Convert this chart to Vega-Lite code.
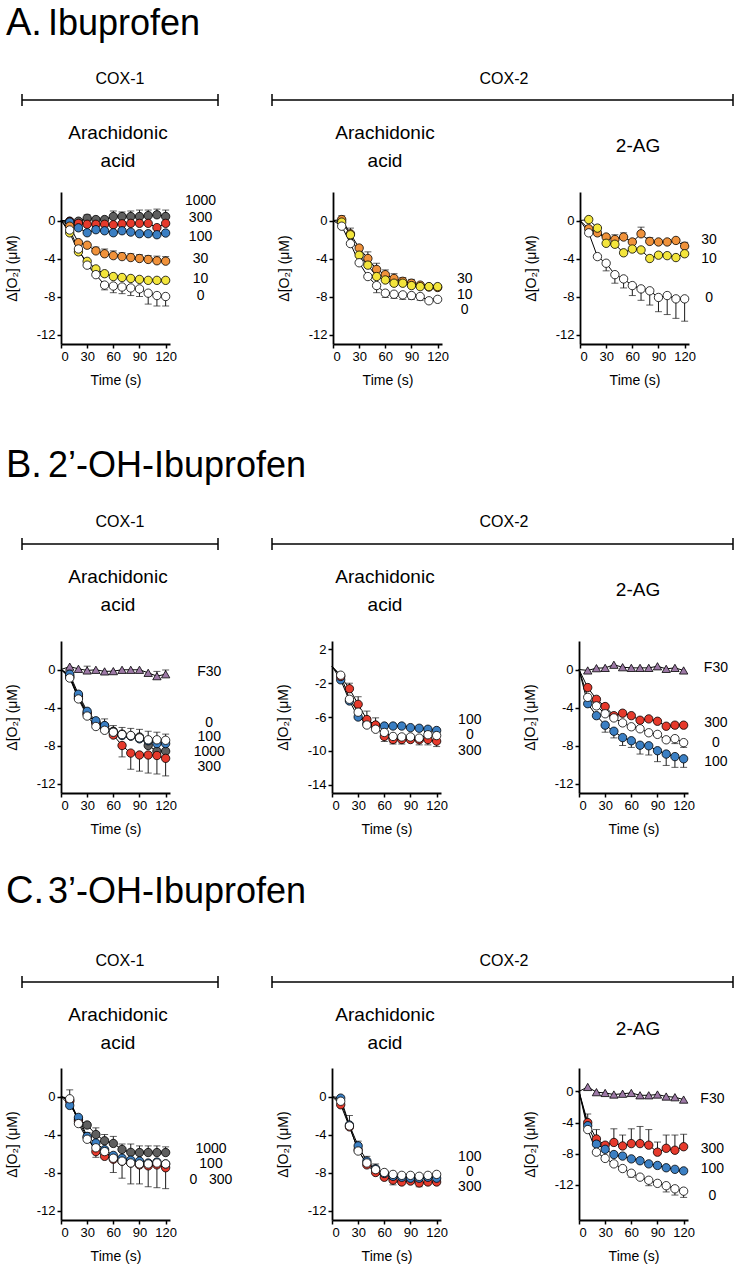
{
"$schema":"https://vega.github.io/schema/vega-lite/v6.json",
"background":"white","padding":5,"spacing":0,
"config":{"view":{"stroke":null},"font":"Liberation Sans",
"axis":{"grid":false,"domainColor":"#000","domainWidth":1.8,"tickColor":"#000","tickWidth":1.5,"tickSize":4,"labelColor":"#000","labelFont":"Liberation Sans","labelFontSize":13,"labelPadding":2,"titleColor":"#000","titleFont":"Liberation Sans","titleFontSize":14,"titleFontWeight":"normal"},
"axisY":{"titlePadding":17},"axisX":{"titlePadding":10},
"text":{"font":"Liberation Sans","color":"#000"}},
"datasets":{
"labs":[
{"p":"A1","lab":"1000","ly":2.1},{"p":"A1","lab":"300","ly":0.3},{"p":"A1","lab":"100","ly":-1.7},{"p":"A1","lab":"30","ly":-4.1},{"p":"A1","lab":"10","ly":-6.2},{"p":"A1","lab":"0","ly":-7.95},
{"p":"A2","lab":"30","ly":-6.2},{"p":"A2","lab":"10","ly":-7.8},{"p":"A2","lab":"0","ly":-9.4},
{"p":"A3","lab":"30","ly":-2.1},{"p":"A3","lab":"10","ly":-4.1},{"p":"A3","lab":"0","ly":-8.2},
{"p":"B1","lab":"F30","ly":-0.3},{"p":"B1","lab":"0","ly":-5.6},{"p":"B1","lab":"100","ly":-7.15},{"p":"B1","lab":"1000","ly":-8.7},{"p":"B1","lab":"300","ly":-10.25},
{"p":"B2","lab":"100","ly":-6.3},{"p":"B2","lab":"0","ly":-8.15},{"p":"B2","lab":"300","ly":-10.0},
{"p":"B3","lab":"F30","ly":0.17},{"p":"B3","lab":"300","ly":-5.6},{"p":"B3","lab":"0","ly":-7.7},{"p":"B3","lab":"100","ly":-9.75},
{"p":"C1","lab":"1000","ly":-5.5},{"p":"C1","lab":"100","ly":-7.15},{"p":"C1","lab":"0\u00a0\u00a0\u00a0300","ly":-8.8},
{"p":"C2","lab":"100","ly":-6.4},{"p":"C2","lab":"0","ly":-7.95},{"p":"C2","lab":"300","ly":-9.5},
{"p":"C3","lab":"F30","ly":-1.0},{"p":"C3","lab":"300","ly":-7.4},{"p":"C3","lab":"100","ly":-10.0},{"p":"C3","lab":"0","ly":-13.4}
],
"pts":[
{"p":"A1","s":"1000","t":0,"v":0},{"p":"A1","s":"1000","t":10,"v":-0.07},{"p":"A1","s":"1000","t":20,"v":-0.07},{"p":"A1","s":"1000","t":30,"v":0.24,"eb":0.6},{"p":"A1","s":"1000","t":40,"v":0.1},{"p":"A1","s":"1000","t":50,"v":0.1},{"p":"A1","s":"1000","t":60,"v":0.42,"eb":1.0},{"p":"A1","s":"1000","t":70,"v":0.42,"eb":0.9},{"p":"A1","s":"1000","t":80,"v":0.42,"eb":1.0},{"p":"A1","s":"1000","t":90,"v":0.42,"eb":1.1},{"p":"A1","s":"1000","t":100,"v":0.52,"eb":1.1},{"p":"A1","s":"1000","t":110,"v":0.6,"eb":1.2},{"p":"A1","s":"1000","t":120,"v":0.42,"eb":1.1},
{"p":"A1","s":"300","t":0,"v":0},{"p":"A1","s":"300","t":10,"v":-0.1},{"p":"A1","s":"300","t":20,"v":-0.3},{"p":"A1","s":"300","t":30,"v":-0.4},{"p":"A1","s":"300","t":40,"v":-0.4},{"p":"A1","s":"300","t":50,"v":-0.4},{"p":"A1","s":"300","t":60,"v":-0.45},{"p":"A1","s":"300","t":70,"v":-0.35},{"p":"A1","s":"300","t":80,"v":-0.3},{"p":"A1","s":"300","t":90,"v":-0.3},{"p":"A1","s":"300","t":100,"v":-0.3},{"p":"A1","s":"300","t":110,"v":-0.75},{"p":"A1","s":"300","t":120,"v":-0.3},
{"p":"A1","s":"100","t":0,"v":0},{"p":"A1","s":"100","t":10,"v":-0.17},{"p":"A1","s":"100","t":20,"v":-0.77},{"p":"A1","s":"100","t":30,"v":-1.29},{"p":"A1","s":"100","t":40,"v":-0.97},{"p":"A1","s":"100","t":50,"v":-1.08},{"p":"A1","s":"100","t":60,"v":-1.29},{"p":"A1","s":"100","t":70,"v":-1.08},{"p":"A1","s":"100","t":80,"v":-1.22},{"p":"A1","s":"100","t":90,"v":-1.39},{"p":"A1","s":"100","t":100,"v":-1.39},{"p":"A1","s":"100","t":110,"v":-1.5},{"p":"A1","s":"100","t":120,"v":-1.32},
{"p":"A1","s":"30","t":0,"v":0},{"p":"A1","s":"30","t":10,"v":-0.6},{"p":"A1","s":"30","t":20,"v":-2.33},{"p":"A1","s":"30","t":30,"v":-2.6},{"p":"A1","s":"30","t":40,"v":-3.2,"eb":-2.8},{"p":"A1","s":"30","t":50,"v":-3.5,"eb":-3.0},{"p":"A1","s":"30","t":60,"v":-3.7,"eb":-3.2},{"p":"A1","s":"30","t":70,"v":-3.8,"eb":-3.4},{"p":"A1","s":"30","t":80,"v":-3.9,"eb":-3.5},{"p":"A1","s":"30","t":90,"v":-4.0,"eb":-3.6},{"p":"A1","s":"30","t":100,"v":-4.1,"eb":-3.7},{"p":"A1","s":"30","t":110,"v":-4.24,"eb":-3.75},{"p":"A1","s":"30","t":120,"v":-4.28,"eb":-3.8},
{"p":"A1","s":"10","t":0,"v":0},{"p":"A1","s":"10","t":10,"v":-1.3},{"p":"A1","s":"10","t":20,"v":-3.3},{"p":"A1","s":"10","t":30,"v":-4.3},{"p":"A1","s":"10","t":40,"v":-5.1},{"p":"A1","s":"10","t":50,"v":-5.6},{"p":"A1","s":"10","t":60,"v":-5.9},{"p":"A1","s":"10","t":70,"v":-6.0},{"p":"A1","s":"10","t":80,"v":-6.1},{"p":"A1","s":"10","t":90,"v":-6.2},{"p":"A1","s":"10","t":100,"v":-6.3},{"p":"A1","s":"10","t":110,"v":-6.3},{"p":"A1","s":"10","t":120,"v":-6.3},
{"p":"A1","s":"0","t":0,"v":0},{"p":"A1","s":"0","t":10,"v":-1.0},{"p":"A1","s":"0","t":20,"v":-3.0},{"p":"A1","s":"0","t":30,"v":-4.7},{"p":"A1","s":"0","t":40,"v":-5.7},{"p":"A1","s":"0","t":50,"v":-6.8,"eb":-7.3},{"p":"A1","s":"0","t":60,"v":-6.9,"eb":-7.6},{"p":"A1","s":"0","t":70,"v":-7.0,"eb":-7.7},{"p":"A1","s":"0","t":80,"v":-7.1,"eb":-7.9},{"p":"A1","s":"0","t":90,"v":-7.2,"eb":-8.0},{"p":"A1","s":"0","t":100,"v":-7.65,"eb":-8.8},{"p":"A1","s":"0","t":110,"v":-7.9,"eb":-9.0},{"p":"A1","s":"0","t":120,"v":-8.0,"eb":-9.0},
{"p":"A2","s":"30","t":0,"v":0},{"p":"A2","s":"30","t":10,"v":0.1,"eb":0.5},{"p":"A2","s":"30","t":20,"v":-1.4,"eb":-0.8},{"p":"A2","s":"30","t":30,"v":-2.9},{"p":"A2","s":"30","t":40,"v":-4.0,"eb":-3.3},{"p":"A2","s":"30","t":50,"v":-5.15,"eb":-4.5},{"p":"A2","s":"30","t":60,"v":-5.7,"eb":-5.2},{"p":"A2","s":"30","t":70,"v":-6.1,"eb":-5.6},{"p":"A2","s":"30","t":80,"v":-6.4,"eb":-6.0},{"p":"A2","s":"30","t":90,"v":-6.6,"eb":-6.2},{"p":"A2","s":"30","t":100,"v":-6.8},{"p":"A2","s":"30","t":110,"v":-7.0},{"p":"A2","s":"30","t":120,"v":-7.05},
{"p":"A2","s":"10","t":0,"v":0},{"p":"A2","s":"10","t":10,"v":-0.17},{"p":"A2","s":"10","t":20,"v":-1.5},{"p":"A2","s":"10","t":30,"v":-3.65},{"p":"A2","s":"10","t":40,"v":-4.7},{"p":"A2","s":"10","t":50,"v":-5.9},{"p":"A2","s":"10","t":60,"v":-6.26},{"p":"A2","s":"10","t":70,"v":-6.6},{"p":"A2","s":"10","t":80,"v":-6.6},{"p":"A2","s":"10","t":90,"v":-6.85},{"p":"A2","s":"10","t":100,"v":-6.96},{"p":"A2","s":"10","t":110,"v":-6.96},{"p":"A2","s":"10","t":120,"v":-6.96},
{"p":"A2","s":"0","t":0,"v":0},{"p":"A2","s":"0","t":10,"v":-0.6},{"p":"A2","s":"0","t":20,"v":-2.43},{"p":"A2","s":"0","t":30,"v":-4.45},{"p":"A2","s":"0","t":40,"v":-5.9},{"p":"A2","s":"0","t":50,"v":-6.85,"eb":-7.6},{"p":"A2","s":"0","t":60,"v":-7.65,"eb":-8.1},{"p":"A2","s":"0","t":70,"v":-7.76,"eb":-8.2},{"p":"A2","s":"0","t":80,"v":-7.83,"eb":-8.3},{"p":"A2","s":"0","t":90,"v":-7.9,"eb":-8.3},{"p":"A2","s":"0","t":100,"v":-8.0,"eb":-8.4},{"p":"A2","s":"0","t":110,"v":-8.45},{"p":"A2","s":"0","t":120,"v":-8.3},
{"p":"A3","s":"30","t":0,"v":0},{"p":"A3","s":"30","t":10,"v":-0.87},{"p":"A3","s":"30","t":20,"v":-1.3,"eb":-1.0},{"p":"A3","s":"30","t":30,"v":-1.74},{"p":"A3","s":"30","t":40,"v":-2.0,"eb":-1.5},{"p":"A3","s":"30","t":50,"v":-1.74,"eb":-1.3},{"p":"A3","s":"30","t":60,"v":-2.26},{"p":"A3","s":"30","t":70,"v":-1.4,"eb":-0.7},{"p":"A3","s":"30","t":80,"v":-2.2,"eb":-1.8},{"p":"A3","s":"30","t":90,"v":-2.26},{"p":"A3","s":"30","t":100,"v":-2.26},{"p":"A3","s":"30","t":110,"v":-2.1},{"p":"A3","s":"30","t":120,"v":-2.7,"eb":-2.3},
{"p":"A3","s":"10","t":0,"v":0},{"p":"A3","s":"10","t":10,"v":0.1},{"p":"A3","s":"10","t":20,"v":-0.8},{"p":"A3","s":"10","t":30,"v":-2.4},{"p":"A3","s":"10","t":40,"v":-2.5},{"p":"A3","s":"10","t":50,"v":-3.4},{"p":"A3","s":"10","t":60,"v":-3.0},{"p":"A3","s":"10","t":70,"v":-3.1},{"p":"A3","s":"10","t":80,"v":-4.0},{"p":"A3","s":"10","t":90,"v":-3.65},{"p":"A3","s":"10","t":100,"v":-3.7},{"p":"A3","s":"10","t":110,"v":-3.9},{"p":"A3","s":"10","t":120,"v":-3.5},
{"p":"A3","s":"0","t":0,"v":0},{"p":"A3","s":"0","t":10,"v":-1.3},{"p":"A3","s":"0","t":20,"v":-3.8},{"p":"A3","s":"0","t":30,"v":-4.5,"eb":-5.3},{"p":"A3","s":"0","t":40,"v":-5.7,"eb":-6.6},{"p":"A3","s":"0","t":50,"v":-6.15,"eb":-7.1},{"p":"A3","s":"0","t":60,"v":-6.85,"eb":-7.9},{"p":"A3","s":"0","t":70,"v":-7.2,"eb":-8.4},{"p":"A3","s":"0","t":80,"v":-7.4,"eb":-8.9},{"p":"A3","s":"0","t":90,"v":-8.1,"eb":-9.6},{"p":"A3","s":"0","t":100,"v":-7.9,"eb":-9.9},{"p":"A3","s":"0","t":110,"v":-8.25,"eb":-10.3},{"p":"A3","s":"0","t":120,"v":-8.25,"eb":-10.6},
{"p":"B1","s":"F30","t":0,"v":0},{"p":"B1","s":"F30","t":10,"v":0.3},{"p":"B1","s":"F30","t":20,"v":0.07},{"p":"B1","s":"F30","t":30,"v":-0.1,"eb":0.35},{"p":"B1","s":"F30","t":40,"v":-0.03},{"p":"B1","s":"F30","t":50,"v":-0.2},{"p":"B1","s":"F30","t":60,"v":-0.17},{"p":"B1","s":"F30","t":70,"v":-0.03},{"p":"B1","s":"F30","t":80,"v":-0.03},{"p":"B1","s":"F30","t":90,"v":-0.03},{"p":"B1","s":"F30","t":100,"v":-0.35},{"p":"B1","s":"F30","t":110,"v":-0.7,"eb":-0.2},{"p":"B1","s":"F30","t":120,"v":-0.5,"eb":-0.05},
{"p":"B1","s":"1000","t":0,"v":0},{"p":"B1","s":"1000","t":10,"v":-0.8},{"p":"B1","s":"1000","t":20,"v":-3.0},{"p":"B1","s":"1000","t":30,"v":-4.7},{"p":"B1","s":"1000","t":40,"v":-5.6},{"p":"B1","s":"1000","t":50,"v":-5.95},{"p":"B1","s":"1000","t":60,"v":-6.5},{"p":"B1","s":"1000","t":70,"v":-6.8},{"p":"B1","s":"1000","t":80,"v":-7.0},{"p":"B1","s":"1000","t":90,"v":-7.1},{"p":"B1","s":"1000","t":100,"v":-8.0},{"p":"B1","s":"1000","t":110,"v":-8.6},{"p":"B1","s":"1000","t":120,"v":-8.6},
{"p":"B1","s":"300","t":0,"v":0},{"p":"B1","s":"300","t":10,"v":-0.7},{"p":"B1","s":"300","t":20,"v":-2.8},{"p":"B1","s":"300","t":30,"v":-4.6},{"p":"B1","s":"300","t":40,"v":-5.6},{"p":"B1","s":"300","t":50,"v":-6.0},{"p":"B1","s":"300","t":60,"v":-6.9},{"p":"B1","s":"300","t":70,"v":-8.0,"eb":-9.2},{"p":"B1","s":"300","t":80,"v":-8.8,"eb":-10.5},{"p":"B1","s":"300","t":90,"v":-9.0,"eb":-10.7},{"p":"B1","s":"300","t":100,"v":-9.0,"eb":-10.9},{"p":"B1","s":"300","t":110,"v":-9.05,"eb":-11.0},{"p":"B1","s":"300","t":120,"v":-9.35,"eb":-11.2},
{"p":"B1","s":"100","t":0,"v":0},{"p":"B1","s":"100","t":10,"v":-0.5},{"p":"B1","s":"100","t":20,"v":-2.6},{"p":"B1","s":"100","t":30,"v":-4.4},{"p":"B1","s":"100","t":40,"v":-5.4},{"p":"B1","s":"100","t":50,"v":-5.9},{"p":"B1","s":"100","t":60,"v":-6.6},{"p":"B1","s":"100","t":70,"v":-6.95},{"p":"B1","s":"100","t":80,"v":-7.0},{"p":"B1","s":"100","t":90,"v":-7.3},{"p":"B1","s":"100","t":100,"v":-7.5},{"p":"B1","s":"100","t":110,"v":-7.8},{"p":"B1","s":"100","t":120,"v":-7.8},
{"p":"B1","s":"0","t":0,"v":0},{"p":"B1","s":"0","t":10,"v":-0.9},{"p":"B1","s":"0","t":20,"v":-3.1},{"p":"B1","s":"0","t":30,"v":-4.9},{"p":"B1","s":"0","t":40,"v":-6.0},{"p":"B1","s":"0","t":50,"v":-6.4,"eb":-5.2},{"p":"B1","s":"0","t":60,"v":-6.6,"eb":-5.9},{"p":"B1","s":"0","t":70,"v":-6.85,"eb":-6.1},{"p":"B1","s":"0","t":80,"v":-6.95,"eb":-6.2},{"p":"B1","s":"0","t":90,"v":-7.2,"eb":-6.3},{"p":"B1","s":"0","t":100,"v":-7.4,"eb":-6.5},{"p":"B1","s":"0","t":110,"v":-7.4,"eb":-6.6},{"p":"B1","s":"0","t":120,"v":-7.45,"eb":-6.8},
{"p":"B2","s":"100","t":0,"v":0},{"p":"B2","s":"100","t":10,"v":-1.6},{"p":"B2","s":"100","t":20,"v":-4.1},{"p":"B2","s":"100","t":30,"v":-6.0},{"p":"B2","s":"100","t":40,"v":-6.76},{"p":"B2","s":"100","t":50,"v":-7.0},{"p":"B2","s":"100","t":60,"v":-7.07},{"p":"B2","s":"100","t":70,"v":-7.07},{"p":"B2","s":"100","t":80,"v":-7.07},{"p":"B2","s":"100","t":90,"v":-7.26},{"p":"B2","s":"100","t":100,"v":-7.33},{"p":"B2","s":"100","t":110,"v":-7.45},{"p":"B2","s":"100","t":120,"v":-7.6},
{"p":"B2","s":"300","t":0,"v":0},{"p":"B2","s":"300","t":10,"v":-1.2},{"p":"B2","s":"300","t":20,"v":-2.65,"eb":-2.0},{"p":"B2","s":"300","t":30,"v":-4.5,"eb":-3.6},{"p":"B2","s":"300","t":40,"v":-6.3},{"p":"B2","s":"300","t":50,"v":-6.95},{"p":"B2","s":"300","t":60,"v":-8.3},{"p":"B2","s":"300","t":70,"v":-8.67,"eb":-9.2},{"p":"B2","s":"300","t":80,"v":-8.67,"eb":-9.2},{"p":"B2","s":"300","t":90,"v":-8.67},{"p":"B2","s":"300","t":100,"v":-8.7,"eb":-9.3},{"p":"B2","s":"300","t":110,"v":-8.67,"eb":-9.3},{"p":"B2","s":"300","t":120,"v":-8.86,"eb":-9.5},
{"p":"B2","s":"0","t":0,"v":0},{"p":"B2","s":"0","t":10,"v":-1.05},{"p":"B2","s":"0","t":20,"v":-3.9},{"p":"B2","s":"0","t":30,"v":-5.43},{"p":"B2","s":"0","t":40,"v":-6.95,"eb":-5.3},{"p":"B2","s":"0","t":50,"v":-7.45,"eb":-6.1},{"p":"B2","s":"0","t":60,"v":-7.83,"eb":-8.9},{"p":"B2","s":"0","t":70,"v":-8.3,"eb":-9.0},{"p":"B2","s":"0","t":80,"v":-8.36},{"p":"B2","s":"0","t":90,"v":-8.36},{"p":"B2","s":"0","t":100,"v":-8.5},{"p":"B2","s":"0","t":110,"v":-8.1},{"p":"B2","s":"0","t":120,"v":-8.2},
{"p":"B3","s":"F30","t":0,"v":0},{"p":"B3","s":"F30","t":10,"v":-0.1},{"p":"B3","s":"F30","t":20,"v":0.14},{"p":"B3","s":"F30","t":30,"v":0.17},{"p":"B3","s":"F30","t":40,"v":0.5},{"p":"B3","s":"F30","t":50,"v":0.24},{"p":"B3","s":"F30","t":60,"v":0.17},{"p":"B3","s":"F30","t":70,"v":0.17},{"p":"B3","s":"F30","t":80,"v":0.17},{"p":"B3","s":"F30","t":90,"v":0.34},{"p":"B3","s":"F30","t":100,"v":0.07},{"p":"B3","s":"F30","t":110,"v":0.17},{"p":"B3","s":"F30","t":120,"v":-0.1},
{"p":"B3","s":"100","t":0,"v":0},{"p":"B3","s":"100","t":10,"v":-3.6},{"p":"B3","s":"100","t":20,"v":-4.86},{"p":"B3","s":"100","t":30,"v":-5.86,"eb":-6.6},{"p":"B3","s":"100","t":40,"v":-6.5,"eb":-7.2},{"p":"B3","s":"100","t":50,"v":-7.17,"eb":-8.0},{"p":"B3","s":"100","t":60,"v":-7.5,"eb":-8.2},{"p":"B3","s":"100","t":70,"v":-7.97,"eb":-8.9},{"p":"B3","s":"100","t":80,"v":-8.03,"eb":-9.0},{"p":"B3","s":"100","t":90,"v":-8.55,"eb":-9.7},{"p":"B3","s":"100","t":100,"v":-8.9,"eb":-10.1},{"p":"B3","s":"100","t":110,"v":-9.17,"eb":-10.3},{"p":"B3","s":"100","t":120,"v":-9.4,"eb":-10.3},
{"p":"B3","s":"300","t":0,"v":0},{"p":"B3","s":"300","t":10,"v":-1.9},{"p":"B3","s":"300","t":20,"v":-3.14},{"p":"B3","s":"300","t":30,"v":-3.9},{"p":"B3","s":"300","t":40,"v":-4.86},{"p":"B3","s":"300","t":50,"v":-4.6},{"p":"B3","s":"300","t":60,"v":-4.86},{"p":"B3","s":"300","t":70,"v":-5.34},{"p":"B3","s":"300","t":80,"v":-5.2},{"p":"B3","s":"300","t":90,"v":-5.45},{"p":"B3","s":"300","t":100,"v":-5.97},{"p":"B3","s":"300","t":110,"v":-5.86},{"p":"B3","s":"300","t":120,"v":-5.86},
{"p":"B3","s":"0","t":0,"v":0},{"p":"B3","s":"0","t":10,"v":-2.93},{"p":"B3","s":"0","t":20,"v":-3.83},{"p":"B3","s":"0","t":30,"v":-4.66},{"p":"B3","s":"0","t":40,"v":-5.1},{"p":"B3","s":"0","t":50,"v":-5.62},{"p":"B3","s":"0","t":60,"v":-6.03},{"p":"B3","s":"0","t":70,"v":-6.24},{"p":"B3","s":"0","t":80,"v":-6.66},{"p":"B3","s":"0","t":90,"v":-6.83},{"p":"B3","s":"0","t":100,"v":-7.4},{"p":"B3","s":"0","t":110,"v":-7.28,"eb":-7.8},{"p":"B3","s":"0","t":120,"v":-7.7,"eb":-8.2},
{"p":"C1","s":"1000","t":0,"v":0},{"p":"C1","s":"1000","t":10,"v":-0.4},{"p":"C1","s":"1000","t":20,"v":-2.4},{"p":"C1","s":"1000","t":30,"v":-3.0},{"p":"C1","s":"1000","t":40,"v":-4.0,"eb":-3.3},{"p":"C1","s":"1000","t":50,"v":-4.66,"eb":-4.0},{"p":"C1","s":"1000","t":60,"v":-4.94,"eb":-4.2},{"p":"C1","s":"1000","t":70,"v":-5.57,"eb":-5.0},{"p":"C1","s":"1000","t":80,"v":-5.88,"eb":-5.0},{"p":"C1","s":"1000","t":90,"v":-5.9,"eb":-5.2},{"p":"C1","s":"1000","t":100,"v":-5.9,"eb":-5.2},{"p":"C1","s":"1000","t":110,"v":-5.9,"eb":-5.2},{"p":"C1","s":"1000","t":120,"v":-5.9,"eb":-5.3},
{"p":"C1","s":"300","t":0,"v":0},{"p":"C1","s":"300","t":10,"v":-0.5},{"p":"C1","s":"300","t":20,"v":-2.6},{"p":"C1","s":"300","t":30,"v":-4.3},{"p":"C1","s":"300","t":40,"v":-5.8,"eb":-6.4},{"p":"C1","s":"300","t":50,"v":-6.3},{"p":"C1","s":"300","t":60,"v":-6.6,"eb":-8.0},{"p":"C1","s":"300","t":70,"v":-6.8,"eb":-8.6},{"p":"C1","s":"300","t":80,"v":-7.0,"eb":-9.2},{"p":"C1","s":"300","t":90,"v":-7.2,"eb":-9.2},{"p":"C1","s":"300","t":100,"v":-7.3,"eb":-9.5},{"p":"C1","s":"300","t":110,"v":-7.2,"eb":-9.6},{"p":"C1","s":"300","t":120,"v":-7.5,"eb":-9.7},
{"p":"C1","s":"100","t":0,"v":0},{"p":"C1","s":"100","t":10,"v":-0.94},{"p":"C1","s":"100","t":20,"v":-2.2},{"p":"C1","s":"100","t":30,"v":-4.2},{"p":"C1","s":"100","t":40,"v":-4.9},{"p":"C1","s":"100","t":50,"v":-5.6},{"p":"C1","s":"100","t":60,"v":-6.2},{"p":"C1","s":"100","t":70,"v":-6.5},{"p":"C1","s":"100","t":80,"v":-6.7},{"p":"C1","s":"100","t":90,"v":-6.8},{"p":"C1","s":"100","t":100,"v":-7.0},{"p":"C1","s":"100","t":110,"v":-6.9},{"p":"C1","s":"100","t":120,"v":-7.1},
{"p":"C1","s":"0","t":0,"v":0},{"p":"C1","s":"0","t":10,"v":-0.24,"eb":0.7},{"p":"C1","s":"0","t":20,"v":-2.85,"eb":-2.2},{"p":"C1","s":"0","t":30,"v":-4.5,"eb":-3.8},{"p":"C1","s":"0","t":40,"v":-5.4},{"p":"C1","s":"0","t":50,"v":-5.8},{"p":"C1","s":"0","t":60,"v":-6.5},{"p":"C1","s":"0","t":70,"v":-6.8},{"p":"C1","s":"0","t":80,"v":-7.0},{"p":"C1","s":"0","t":90,"v":-7.1},{"p":"C1","s":"0","t":100,"v":-7.1},{"p":"C1","s":"0","t":110,"v":-7.0},{"p":"C1","s":"0","t":120,"v":-7.1},
{"p":"C2","s":"300","t":0,"v":0},{"p":"C2","s":"300","t":10,"v":-0.87},{"p":"C2","s":"300","t":20,"v":-3.2},{"p":"C2","s":"300","t":30,"v":-5.6},{"p":"C2","s":"300","t":40,"v":-7.2},{"p":"C2","s":"300","t":50,"v":-8.0},{"p":"C2","s":"300","t":60,"v":-8.5},{"p":"C2","s":"300","t":70,"v":-8.8,"eb":-9.3},{"p":"C2","s":"300","t":80,"v":-9.0},{"p":"C2","s":"300","t":90,"v":-8.9},{"p":"C2","s":"300","t":100,"v":-9.1,"eb":-9.5},{"p":"C2","s":"300","t":110,"v":-9.0},{"p":"C2","s":"300","t":120,"v":-9.0},
{"p":"C2","s":"100","t":0,"v":0},{"p":"C2","s":"100","t":10,"v":-0.17},{"p":"C2","s":"100","t":20,"v":-3.0},{"p":"C2","s":"100","t":30,"v":-5.2},{"p":"C2","s":"100","t":40,"v":-6.8},{"p":"C2","s":"100","t":50,"v":-7.6},{"p":"C2","s":"100","t":60,"v":-8.1},{"p":"C2","s":"100","t":70,"v":-8.4},{"p":"C2","s":"100","t":80,"v":-8.5},{"p":"C2","s":"100","t":90,"v":-8.6},{"p":"C2","s":"100","t":100,"v":-8.6},{"p":"C2","s":"100","t":110,"v":-8.5},{"p":"C2","s":"100","t":120,"v":-8.6},
{"p":"C2","s":"0","t":0,"v":0},{"p":"C2","s":"0","t":10,"v":-0.5},{"p":"C2","s":"0","t":20,"v":-3.1,"eb":-2.0},{"p":"C2","s":"0","t":30,"v":-5.74,"eb":-4.7},{"p":"C2","s":"0","t":40,"v":-7.0,"eb":-6.3},{"p":"C2","s":"0","t":50,"v":-7.7,"eb":-7.1},{"p":"C2","s":"0","t":60,"v":-8.0},{"p":"C2","s":"0","t":70,"v":-8.2},{"p":"C2","s":"0","t":80,"v":-8.3},{"p":"C2","s":"0","t":90,"v":-8.3},{"p":"C2","s":"0","t":100,"v":-8.4},{"p":"C2","s":"0","t":110,"v":-8.3},{"p":"C2","s":"0","t":120,"v":-8.2},
{"p":"C3","s":"F30","t":0,"v":0},{"p":"C3","s":"F30","t":10,"v":0.57},{"p":"C3","s":"F30","t":20,"v":-0.1},{"p":"C3","s":"F30","t":30,"v":-0.2},{"p":"C3","s":"F30","t":40,"v":-0.4},{"p":"C3","s":"F30","t":50,"v":-0.3},{"p":"C3","s":"F30","t":60,"v":-0.2},{"p":"C3","s":"F30","t":70,"v":-0.5},{"p":"C3","s":"F30","t":80,"v":-0.5},{"p":"C3","s":"F30","t":90,"v":-0.4},{"p":"C3","s":"F30","t":100,"v":-0.66},{"p":"C3","s":"F30","t":110,"v":-0.75},{"p":"C3","s":"F30","t":120,"v":-1.05},
{"p":"C3","s":"300","t":0,"v":0},{"p":"C3","s":"300","t":10,"v":-4.0,"eb":-2.9},{"p":"C3","s":"300","t":20,"v":-6.1,"eb":-4.9},{"p":"C3","s":"300","t":30,"v":-6.9},{"p":"C3","s":"300","t":40,"v":-6.55,"eb":-4.8},{"p":"C3","s":"300","t":50,"v":-7.0,"eb":-5.6},{"p":"C3","s":"300","t":60,"v":-6.7,"eb":-4.8},{"p":"C3","s":"300","t":70,"v":-6.7,"eb":-4.5},{"p":"C3","s":"300","t":80,"v":-6.9,"eb":-4.9},{"p":"C3","s":"300","t":90,"v":-7.8,"eb":-6.5},{"p":"C3","s":"300","t":100,"v":-7.3,"eb":-5.6},{"p":"C3","s":"300","t":110,"v":-7.55,"eb":-5.6},{"p":"C3","s":"300","t":120,"v":-7.1,"eb":-5.5},
{"p":"C3","s":"100","t":0,"v":0},{"p":"C3","s":"100","t":10,"v":-4.4},{"p":"C3","s":"100","t":20,"v":-6.77},{"p":"C3","s":"100","t":30,"v":-7.43},{"p":"C3","s":"100","t":40,"v":-8.1},{"p":"C3","s":"100","t":50,"v":-8.3},{"p":"C3","s":"100","t":60,"v":-8.66},{"p":"C3","s":"100","t":70,"v":-8.9},{"p":"C3","s":"100","t":80,"v":-9.3},{"p":"C3","s":"100","t":90,"v":-9.5},{"p":"C3","s":"100","t":100,"v":-9.8},{"p":"C3","s":"100","t":110,"v":-10.0},{"p":"C3","s":"100","t":120,"v":-10.2},
{"p":"C3","s":"0","t":0,"v":0},{"p":"C3","s":"0","t":10,"v":-4.9},{"p":"C3","s":"0","t":20,"v":-7.8},{"p":"C3","s":"0","t":30,"v":-8.6},{"p":"C3","s":"0","t":40,"v":-9.3},{"p":"C3","s":"0","t":50,"v":-9.9},{"p":"C3","s":"0","t":60,"v":-10.5,"eb":-11.0},{"p":"C3","s":"0","t":70,"v":-11.0},{"p":"C3","s":"0","t":80,"v":-11.4,"eb":-12.1},{"p":"C3","s":"0","t":90,"v":-11.8},{"p":"C3","s":"0","t":100,"v":-12.1,"eb":-12.9},{"p":"C3","s":"0","t":110,"v":-12.5,"eb":-13.3},{"p":"C3","s":"0","t":120,"v":-12.8,"eb":-13.6}
]},
"vconcat":[
{"width":673,"height":187,"data":{"values":[{}]},
"layer":[
{"mark":{"type":"text","align":"left","baseline":"alphabetic","fontSize":38},"encoding":{"x":{"datum":1,"type":"quantitative","scale":{"domain":[56,729],"nice":false,"zero":false},"axis":null},"y":{"datum":30,"type":"quantitative","scale":{"domain":[0,187],"reverse":true,"nice":false,"zero":false},"axis":null},"text":{"value":"A."}}},
{"mark":{"type":"text","align":"left","baseline":"alphabetic","fontSize":36},"encoding":{"x":{"datum":43,"type":"quantitative","scale":{"domain":[56,729],"nice":false,"zero":false},"axis":null},"y":{"datum":30,"type":"quantitative","scale":{"domain":[0,187],"reverse":true,"nice":false,"zero":false},"axis":null},"text":{"value":"Ibuprofen"}}},
{"mark":{"type":"text","align":"center","baseline":"alphabetic","fontSize":16},"encoding":{"x":{"datum":115,"type":"quantitative","scale":{"domain":[56,729],"nice":false,"zero":false},"axis":null},"y":{"datum":79,"type":"quantitative","scale":{"domain":[0,187],"reverse":true,"nice":false,"zero":false},"axis":null},"text":{"value":"COX-1"}}},
{"mark":{"type":"text","align":"center","baseline":"alphabetic","fontSize":16},"encoding":{"x":{"datum":499,"type":"quantitative","scale":{"domain":[56,729],"nice":false,"zero":false},"axis":null},"y":{"datum":79,"type":"quantitative","scale":{"domain":[0,187],"reverse":true,"nice":false,"zero":false},"axis":null},"text":{"value":"COX-2"}}},
{"mark":{"type":"rule","color":"#000","strokeWidth":1.5},"encoding":{"x":{"datum":17,"type":"quantitative","scale":{"domain":[56,729],"nice":false,"zero":false},"axis":null},"x2":{"datum":213},"y":{"datum":95,"type":"quantitative","scale":{"domain":[0,187],"reverse":true,"nice":false,"zero":false},"axis":null}}},
{"mark":{"type":"rule","color":"#000","strokeWidth":1.5},"encoding":{"x":{"datum":267,"type":"quantitative","scale":{"domain":[56,729],"nice":false,"zero":false},"axis":null},"x2":{"datum":728},"y":{"datum":95,"type":"quantitative","scale":{"domain":[0,187],"reverse":true,"nice":false,"zero":false},"axis":null}}},
{"mark":{"type":"rule","color":"#000","strokeWidth":1.5},"encoding":{"x":{"datum":17,"type":"quantitative","scale":{"domain":[56,729],"nice":false,"zero":false},"axis":null},"y":{"datum":89,"type":"quantitative","scale":{"domain":[0,187],"reverse":true,"nice":false,"zero":false},"axis":null},"y2":{"datum":101}}},
{"mark":{"type":"rule","color":"#000","strokeWidth":1.5},"encoding":{"x":{"datum":213,"type":"quantitative","scale":{"domain":[56,729],"nice":false,"zero":false},"axis":null},"y":{"datum":89,"type":"quantitative","scale":{"domain":[0,187],"reverse":true,"nice":false,"zero":false},"axis":null},"y2":{"datum":101}}},
{"mark":{"type":"rule","color":"#000","strokeWidth":1.5},"encoding":{"x":{"datum":267,"type":"quantitative","scale":{"domain":[56,729],"nice":false,"zero":false},"axis":null},"y":{"datum":89,"type":"quantitative","scale":{"domain":[0,187],"reverse":true,"nice":false,"zero":false},"axis":null},"y2":{"datum":101}}},
{"mark":{"type":"rule","color":"#000","strokeWidth":1.5},"encoding":{"x":{"datum":728,"type":"quantitative","scale":{"domain":[56,729],"nice":false,"zero":false},"axis":null},"y":{"datum":89,"type":"quantitative","scale":{"domain":[0,187],"reverse":true,"nice":false,"zero":false},"axis":null},"y2":{"datum":101}}},
{"mark":{"type":"text","align":"center","baseline":"alphabetic","fontSize":19,"lineHeight":28},"encoding":{"x":{"datum":113,"type":"quantitative","scale":{"domain":[56,729],"nice":false,"zero":false},"axis":null},"y":{"datum":134,"type":"quantitative","scale":{"domain":[0,187],"reverse":true,"nice":false,"zero":false},"axis":null},"text":{"value":["Arachidonic","acid"]}}},
{"mark":{"type":"text","align":"center","baseline":"alphabetic","fontSize":19,"lineHeight":28},"encoding":{"x":{"datum":380,"type":"quantitative","scale":{"domain":[56,729],"nice":false,"zero":false},"axis":null},"y":{"datum":134,"type":"quantitative","scale":{"domain":[0,187],"reverse":true,"nice":false,"zero":false},"axis":null},"text":{"value":["Arachidonic","acid"]}}},
{"mark":{"type":"text","align":"center","baseline":"alphabetic","fontSize":19},"encoding":{"x":{"datum":633,"type":"quantitative","scale":{"domain":[56,729],"nice":false,"zero":false},"axis":null},"y":{"datum":147,"type":"quantitative","scale":{"domain":[0,187],"reverse":true,"nice":false,"zero":false},"axis":null},"text":{"value":"2-AG"}}}
]},
{"spacing":60,"hconcat":[
{"width":109,"height":152,"layer":[
{"encoding":{"x":{"field":"t","type":"quantitative","scale":{"domain":[0,125],"nice":false,"zero":false},"axis":{"values":[0,30,60,90,120],"title":"Time (s)"}},"y":{"field":"v","type":"quantitative","scale":{"domain":[-13,3],"nice":false,"zero":false},"axis":{"values":[0,-4,-8,-12],"title":"Δ[O₂] (μM)","labelExpr":"'' + datum.value"}}},
"layer":[
{"data":{"name":"pts"},"transform":[{"filter":"datum.p=='A1' && isValid(datum.eb)"}],"mark":{"type":"rule","color":"#1a1a1a","strokeWidth":1},"encoding":{"y2":{"field":"eb"}}},
{"data":{"name":"pts"},"transform":[{"filter":"datum.p=='A1' && isValid(datum.eb)"}],"mark":{"type":"tick","orient":"horizontal","size":7,"thickness":1,"color":"#1a1a1a"},"encoding":{"y":{"field":"eb","type":"quantitative","scale":{"domain":[-13,3],"nice":false,"zero":false},"axis":{"values":[0,-4,-8,-12],"title":"Δ[O₂] (μM)","labelExpr":"'' + datum.value"}}}},
{"data":{"name":"pts"},"transform":[{"filter":"datum.p=='A1'"}],"mark":{"type":"line","color":"#000","strokeWidth":1},"encoding":{"detail":{"field":"s"}}},
{"data":{"name":"pts"},"transform":[{"filter":"datum.p=='A1' && datum.t>0"}],"mark":{"type":"point","filled":true,"stroke":"#000","strokeWidth":0.8,"size":70,"opacity":1},"encoding":{"fill":{"field":"s","type":"nominal","scale":{"domain":["0","10","30","100","300","1000","F30"],"range":["#ffffff","#f3e53c","#f0923b","#3b7fc3","#e63a2c","#5f5f5f","#9d79a6"]},"legend":null},"shape":{"field":"s","type":"nominal","scale":{"domain":["0","10","30","100","300","1000","F30"],"range":["circle","circle","circle","circle","circle","circle","triangle-up"]},"legend":null}}}
]},
{"data":{"name":"labs"},"transform":[{"filter":"datum.p=='A1'"}],"mark":{"type":"text","fontSize":14,"align":"center","baseline":"middle"},"encoding":{"x":{"datum":160,"type":"quantitative","scale":{"domain":[0,125],"nice":false,"zero":false},"axis":{"values":[0,30,60,90,120],"title":"Time (s)"}},"y":{"field":"ly","type":"quantitative","scale":{"domain":[-13,3],"nice":false,"zero":false},"axis":{"values":[0,-4,-8,-12],"title":"Δ[O₂] (μM)","labelExpr":"'' + datum.value"}},"text":{"field":"lab"}}}
]},
{"spacing":51,"hconcat":[
{"width":109,"height":152,"layer":[
{"encoding":{"x":{"field":"t","type":"quantitative","scale":{"domain":[0,125],"nice":false,"zero":false},"axis":{"values":[0,30,60,90,120],"title":"Time (s)"}},"y":{"field":"v","type":"quantitative","scale":{"domain":[-13,3],"nice":false,"zero":false},"axis":{"values":[0,-4,-8,-12],"title":"Δ[O₂] (μM)","labelExpr":"'' + datum.value"}}},
"layer":[
{"data":{"name":"pts"},"transform":[{"filter":"datum.p=='A2' && isValid(datum.eb)"}],"mark":{"type":"rule","color":"#1a1a1a","strokeWidth":1},"encoding":{"y2":{"field":"eb"}}},
{"data":{"name":"pts"},"transform":[{"filter":"datum.p=='A2' && isValid(datum.eb)"}],"mark":{"type":"tick","orient":"horizontal","size":7,"thickness":1,"color":"#1a1a1a"},"encoding":{"y":{"field":"eb","type":"quantitative","scale":{"domain":[-13,3],"nice":false,"zero":false},"axis":{"values":[0,-4,-8,-12],"title":"Δ[O₂] (μM)","labelExpr":"'' + datum.value"}}}},
{"data":{"name":"pts"},"transform":[{"filter":"datum.p=='A2'"}],"mark":{"type":"line","color":"#000","strokeWidth":1},"encoding":{"detail":{"field":"s"}}},
{"data":{"name":"pts"},"transform":[{"filter":"datum.p=='A2' && datum.t>0"}],"mark":{"type":"point","filled":true,"stroke":"#000","strokeWidth":0.8,"size":70,"opacity":1},"encoding":{"fill":{"field":"s","type":"nominal","scale":{"domain":["0","10","30","100","300","1000","F30"],"range":["#ffffff","#f3e53c","#f0923b","#3b7fc3","#e63a2c","#5f5f5f","#9d79a6"]},"legend":null},"shape":{"field":"s","type":"nominal","scale":{"domain":["0","10","30","100","300","1000","F30"],"range":["circle","circle","circle","circle","circle","circle","triangle-up"]},"legend":null}}}
]},
{"data":{"name":"labs"},"transform":[{"filter":"datum.p=='A2'"}],"mark":{"type":"text","fontSize":14,"align":"center","baseline":"middle"},"encoding":{"x":{"datum":151,"type":"quantitative","scale":{"domain":[0,125],"nice":false,"zero":false},"axis":{"values":[0,30,60,90,120],"title":"Time (s)"}},"y":{"field":"ly","type":"quantitative","scale":{"domain":[-13,3],"nice":false,"zero":false},"axis":{"values":[0,-4,-8,-12],"title":"Δ[O₂] (μM)","labelExpr":"'' + datum.value"}},"text":{"field":"lab"}}}
]},
{"width":109,"height":152,"layer":[
{"encoding":{"x":{"field":"t","type":"quantitative","scale":{"domain":[0,125],"nice":false,"zero":false},"axis":{"values":[0,30,60,90,120],"title":"Time (s)"}},"y":{"field":"v","type":"quantitative","scale":{"domain":[-13,3],"nice":false,"zero":false},"axis":{"values":[0,-4,-8,-12],"title":"Δ[O₂] (μM)","labelExpr":"'' + datum.value"}}},
"layer":[
{"data":{"name":"pts"},"transform":[{"filter":"datum.p=='A3' && isValid(datum.eb)"}],"mark":{"type":"rule","color":"#1a1a1a","strokeWidth":1},"encoding":{"y2":{"field":"eb"}}},
{"data":{"name":"pts"},"transform":[{"filter":"datum.p=='A3' && isValid(datum.eb)"}],"mark":{"type":"tick","orient":"horizontal","size":7,"thickness":1,"color":"#1a1a1a"},"encoding":{"y":{"field":"eb","type":"quantitative","scale":{"domain":[-13,3],"nice":false,"zero":false},"axis":{"values":[0,-4,-8,-12],"title":"Δ[O₂] (μM)","labelExpr":"'' + datum.value"}}}},
{"data":{"name":"pts"},"transform":[{"filter":"datum.p=='A3'"}],"mark":{"type":"line","color":"#000","strokeWidth":1},"encoding":{"detail":{"field":"s"}}},
{"data":{"name":"pts"},"transform":[{"filter":"datum.p=='A3' && datum.t>0"}],"mark":{"type":"point","filled":true,"stroke":"#000","strokeWidth":0.8,"size":70,"opacity":1},"encoding":{"fill":{"field":"s","type":"nominal","scale":{"domain":["0","10","30","100","300","1000","F30"],"range":["#ffffff","#f3e53c","#f0923b","#3b7fc3","#e63a2c","#5f5f5f","#9d79a6"]},"legend":null},"shape":{"field":"s","type":"nominal","scale":{"domain":["0","10","30","100","300","1000","F30"],"range":["circle","circle","circle","circle","circle","circle","triangle-up"]},"legend":null}}}
]},
{"data":{"name":"labs"},"transform":[{"filter":"datum.p=='A3'"}],"mark":{"type":"text","fontSize":14,"align":"center","baseline":"middle"},"encoding":{"x":{"datum":148,"type":"quantitative","scale":{"domain":[0,125],"nice":false,"zero":false},"axis":{"values":[0,30,60,90,120],"title":"Time (s)"}},"y":{"field":"ly","type":"quantitative","scale":{"domain":[-13,3],"nice":false,"zero":false},"axis":{"values":[0,-4,-8,-12],"title":"Δ[O₂] (μM)","labelExpr":"'' + datum.value"}},"text":{"field":"lab"}}}
]}
]}
]},
{"width":673,"height":254,"data":{"values":[{}]},
"layer":[
{"mark":{"type":"text","align":"left","baseline":"alphabetic","fontSize":38},"encoding":{"x":{"datum":1,"type":"quantitative","scale":{"domain":[56,729],"nice":false,"zero":false},"axis":null},"y":{"datum":90,"type":"quantitative","scale":{"domain":[0,254],"reverse":true,"nice":false,"zero":false},"axis":null},"text":{"value":"B."}}},
{"mark":{"type":"text","align":"left","baseline":"alphabetic","fontSize":36},"encoding":{"x":{"datum":43,"type":"quantitative","scale":{"domain":[56,729],"nice":false,"zero":false},"axis":null},"y":{"datum":90,"type":"quantitative","scale":{"domain":[0,254],"reverse":true,"nice":false,"zero":false},"axis":null},"text":{"value":"2’-OH-Ibuprofen"}}},
{"mark":{"type":"text","align":"center","baseline":"alphabetic","fontSize":16},"encoding":{"x":{"datum":115,"type":"quantitative","scale":{"domain":[56,729],"nice":false,"zero":false},"axis":null},"y":{"datum":140,"type":"quantitative","scale":{"domain":[0,254],"reverse":true,"nice":false,"zero":false},"axis":null},"text":{"value":"COX-1"}}},
{"mark":{"type":"text","align":"center","baseline":"alphabetic","fontSize":16},"encoding":{"x":{"datum":499,"type":"quantitative","scale":{"domain":[56,729],"nice":false,"zero":false},"axis":null},"y":{"datum":140,"type":"quantitative","scale":{"domain":[0,254],"reverse":true,"nice":false,"zero":false},"axis":null},"text":{"value":"COX-2"}}},
{"mark":{"type":"rule","color":"#000","strokeWidth":1.5},"encoding":{"x":{"datum":17,"type":"quantitative","scale":{"domain":[56,729],"nice":false,"zero":false},"axis":null},"x2":{"datum":213},"y":{"datum":157,"type":"quantitative","scale":{"domain":[0,254],"reverse":true,"nice":false,"zero":false},"axis":null}}},
{"mark":{"type":"rule","color":"#000","strokeWidth":1.5},"encoding":{"x":{"datum":267,"type":"quantitative","scale":{"domain":[56,729],"nice":false,"zero":false},"axis":null},"x2":{"datum":728},"y":{"datum":157,"type":"quantitative","scale":{"domain":[0,254],"reverse":true,"nice":false,"zero":false},"axis":null}}},
{"mark":{"type":"rule","color":"#000","strokeWidth":1.5},"encoding":{"x":{"datum":17,"type":"quantitative","scale":{"domain":[56,729],"nice":false,"zero":false},"axis":null},"y":{"datum":151,"type":"quantitative","scale":{"domain":[0,254],"reverse":true,"nice":false,"zero":false},"axis":null},"y2":{"datum":163}}},
{"mark":{"type":"rule","color":"#000","strokeWidth":1.5},"encoding":{"x":{"datum":213,"type":"quantitative","scale":{"domain":[56,729],"nice":false,"zero":false},"axis":null},"y":{"datum":151,"type":"quantitative","scale":{"domain":[0,254],"reverse":true,"nice":false,"zero":false},"axis":null},"y2":{"datum":163}}},
{"mark":{"type":"rule","color":"#000","strokeWidth":1.5},"encoding":{"x":{"datum":267,"type":"quantitative","scale":{"domain":[56,729],"nice":false,"zero":false},"axis":null},"y":{"datum":151,"type":"quantitative","scale":{"domain":[0,254],"reverse":true,"nice":false,"zero":false},"axis":null},"y2":{"datum":163}}},
{"mark":{"type":"rule","color":"#000","strokeWidth":1.5},"encoding":{"x":{"datum":728,"type":"quantitative","scale":{"domain":[56,729],"nice":false,"zero":false},"axis":null},"y":{"datum":151,"type":"quantitative","scale":{"domain":[0,254],"reverse":true,"nice":false,"zero":false},"axis":null},"y2":{"datum":163}}},
{"mark":{"type":"text","align":"center","baseline":"alphabetic","fontSize":19,"lineHeight":28},"encoding":{"x":{"datum":113,"type":"quantitative","scale":{"domain":[56,729],"nice":false,"zero":false},"axis":null},"y":{"datum":196,"type":"quantitative","scale":{"domain":[0,254],"reverse":true,"nice":false,"zero":false},"axis":null},"text":{"value":["Arachidonic","acid"]}}},
{"mark":{"type":"text","align":"center","baseline":"alphabetic","fontSize":19,"lineHeight":28},"encoding":{"x":{"datum":380,"type":"quantitative","scale":{"domain":[56,729],"nice":false,"zero":false},"axis":null},"y":{"datum":196,"type":"quantitative","scale":{"domain":[0,254],"reverse":true,"nice":false,"zero":false},"axis":null},"text":{"value":["Arachidonic","acid"]}}},
{"mark":{"type":"text","align":"center","baseline":"alphabetic","fontSize":19},"encoding":{"x":{"datum":633,"type":"quantitative","scale":{"domain":[56,729],"nice":false,"zero":false},"axis":null},"y":{"datum":209,"type":"quantitative","scale":{"domain":[0,254],"reverse":true,"nice":false,"zero":false},"axis":null},"text":{"value":"2-AG"}}}
]},
{"spacing":51,"hconcat":[
{"width":109,"height":152,"layer":[
{"encoding":{"x":{"field":"t","type":"quantitative","scale":{"domain":[0,125],"nice":false,"zero":false},"axis":{"values":[0,30,60,90,120],"title":"Time (s)"}},"y":{"field":"v","type":"quantitative","scale":{"domain":[-13,3],"nice":false,"zero":false},"axis":{"values":[0,-4,-8,-12],"title":"Δ[O₂] (μM)","labelExpr":"'' + datum.value"}}},
"layer":[
{"data":{"name":"pts"},"transform":[{"filter":"datum.p=='B1' && isValid(datum.eb)"}],"mark":{"type":"rule","color":"#1a1a1a","strokeWidth":1},"encoding":{"y2":{"field":"eb"}}},
{"data":{"name":"pts"},"transform":[{"filter":"datum.p=='B1' && isValid(datum.eb)"}],"mark":{"type":"tick","orient":"horizontal","size":7,"thickness":1,"color":"#1a1a1a"},"encoding":{"y":{"field":"eb","type":"quantitative","scale":{"domain":[-13,3],"nice":false,"zero":false},"axis":{"values":[0,-4,-8,-12],"title":"Δ[O₂] (μM)","labelExpr":"'' + datum.value"}}}},
{"data":{"name":"pts"},"transform":[{"filter":"datum.p=='B1'"}],"mark":{"type":"line","color":"#000","strokeWidth":1},"encoding":{"detail":{"field":"s"}}},
{"data":{"name":"pts"},"transform":[{"filter":"datum.p=='B1' && datum.t>0"}],"mark":{"type":"point","filled":true,"stroke":"#000","strokeWidth":0.8,"size":70,"opacity":1},"encoding":{"fill":{"field":"s","type":"nominal","scale":{"domain":["0","10","30","100","300","1000","F30"],"range":["#ffffff","#f3e53c","#f0923b","#3b7fc3","#e63a2c","#5f5f5f","#9d79a6"]},"legend":null},"shape":{"field":"s","type":"nominal","scale":{"domain":["0","10","30","100","300","1000","F30"],"range":["circle","circle","circle","circle","circle","circle","triangle-up"]},"legend":null}}}
]},
{"data":{"name":"labs"},"transform":[{"filter":"datum.p=='B1'"}],"mark":{"type":"text","fontSize":14,"align":"center","baseline":"middle"},"encoding":{"x":{"datum":170,"type":"quantitative","scale":{"domain":[0,125],"nice":false,"zero":false},"axis":{"values":[0,30,60,90,120],"title":"Time (s)"}},"y":{"field":"ly","type":"quantitative","scale":{"domain":[-13,3],"nice":false,"zero":false},"axis":{"values":[0,-4,-8,-12],"title":"Δ[O₂] (μM)","labelExpr":"'' + datum.value"}},"text":{"field":"lab"}}}
]},
{"spacing":41,"hconcat":[
{"width":109,"height":152,"layer":[
{"encoding":{"x":{"field":"t","type":"quantitative","scale":{"domain":[0,125],"nice":false,"zero":false},"axis":{"values":[0,30,60,90,120],"title":"Time (s)"}},"y":{"field":"v","type":"quantitative","scale":{"domain":[-15,3],"nice":false,"zero":false},"axis":{"values":[2,-2,-6,-10,-14],"title":"Δ[O₂] (μM)","labelExpr":"'' + datum.value"}}},
"layer":[
{"data":{"name":"pts"},"transform":[{"filter":"datum.p=='B2' && isValid(datum.eb)"}],"mark":{"type":"rule","color":"#1a1a1a","strokeWidth":1},"encoding":{"y2":{"field":"eb"}}},
{"data":{"name":"pts"},"transform":[{"filter":"datum.p=='B2' && isValid(datum.eb)"}],"mark":{"type":"tick","orient":"horizontal","size":7,"thickness":1,"color":"#1a1a1a"},"encoding":{"y":{"field":"eb","type":"quantitative","scale":{"domain":[-15,3],"nice":false,"zero":false},"axis":{"values":[2,-2,-6,-10,-14],"title":"Δ[O₂] (μM)","labelExpr":"'' + datum.value"}}}},
{"data":{"name":"pts"},"transform":[{"filter":"datum.p=='B2'"}],"mark":{"type":"line","color":"#000","strokeWidth":1},"encoding":{"detail":{"field":"s"}}},
{"data":{"name":"pts"},"transform":[{"filter":"datum.p=='B2' && datum.t>0"}],"mark":{"type":"point","filled":true,"stroke":"#000","strokeWidth":0.8,"size":70,"opacity":1},"encoding":{"fill":{"field":"s","type":"nominal","scale":{"domain":["0","10","30","100","300","1000","F30"],"range":["#ffffff","#f3e53c","#f0923b","#3b7fc3","#e63a2c","#5f5f5f","#9d79a6"]},"legend":null},"shape":{"field":"s","type":"nominal","scale":{"domain":["0","10","30","100","300","1000","F30"],"range":["circle","circle","circle","circle","circle","circle","triangle-up"]},"legend":null}}}
]},
{"data":{"name":"labs"},"transform":[{"filter":"datum.p=='B2'"}],"mark":{"type":"text","fontSize":14,"align":"center","baseline":"middle"},"encoding":{"x":{"datum":158,"type":"quantitative","scale":{"domain":[0,125],"nice":false,"zero":false},"axis":{"values":[0,30,60,90,120],"title":"Time (s)"}},"y":{"field":"ly","type":"quantitative","scale":{"domain":[-15,3],"nice":false,"zero":false},"axis":{"values":[2,-2,-6,-10,-14],"title":"Δ[O₂] (μM)","labelExpr":"'' + datum.value"}},"text":{"field":"lab"}}}
]},
{"width":109,"height":152,"layer":[
{"encoding":{"x":{"field":"t","type":"quantitative","scale":{"domain":[0,125],"nice":false,"zero":false},"axis":{"values":[0,30,60,90,120],"title":"Time (s)"}},"y":{"field":"v","type":"quantitative","scale":{"domain":[-13,3],"nice":false,"zero":false},"axis":{"values":[0,-4,-8,-12],"title":"Δ[O₂] (μM)","labelExpr":"'' + datum.value"}}},
"layer":[
{"data":{"name":"pts"},"transform":[{"filter":"datum.p=='B3' && isValid(datum.eb)"}],"mark":{"type":"rule","color":"#1a1a1a","strokeWidth":1},"encoding":{"y2":{"field":"eb"}}},
{"data":{"name":"pts"},"transform":[{"filter":"datum.p=='B3' && isValid(datum.eb)"}],"mark":{"type":"tick","orient":"horizontal","size":7,"thickness":1,"color":"#1a1a1a"},"encoding":{"y":{"field":"eb","type":"quantitative","scale":{"domain":[-13,3],"nice":false,"zero":false},"axis":{"values":[0,-4,-8,-12],"title":"Δ[O₂] (μM)","labelExpr":"'' + datum.value"}}}},
{"data":{"name":"pts"},"transform":[{"filter":"datum.p=='B3'"}],"mark":{"type":"line","color":"#000","strokeWidth":1},"encoding":{"detail":{"field":"s"}}},
{"data":{"name":"pts"},"transform":[{"filter":"datum.p=='B3' && datum.t>0"}],"mark":{"type":"point","filled":true,"stroke":"#000","strokeWidth":0.8,"size":70,"opacity":1},"encoding":{"fill":{"field":"s","type":"nominal","scale":{"domain":["0","10","30","100","300","1000","F30"],"range":["#ffffff","#f3e53c","#f0923b","#3b7fc3","#e63a2c","#5f5f5f","#9d79a6"]},"legend":null},"shape":{"field":"s","type":"nominal","scale":{"domain":["0","10","30","100","300","1000","F30"],"range":["circle","circle","circle","circle","circle","circle","triangle-up"]},"legend":null}}}
]},
{"data":{"name":"labs"},"transform":[{"filter":"datum.p=='B3'"}],"mark":{"type":"text","fontSize":14,"align":"center","baseline":"middle"},"encoding":{"x":{"datum":157,"type":"quantitative","scale":{"domain":[0,125],"nice":false,"zero":false},"axis":{"values":[0,30,60,90,120],"title":"Time (s)"}},"y":{"field":"ly","type":"quantitative","scale":{"domain":[-13,3],"nice":false,"zero":false},"axis":{"values":[0,-4,-8,-12],"title":"Δ[O₂] (μM)","labelExpr":"'' + datum.value"}},"text":{"field":"lab"}}}
]}
]}
]},
{"width":673,"height":232,"data":{"values":[{}]},
"layer":[
{"mark":{"type":"text","align":"left","baseline":"alphabetic","fontSize":38},"encoding":{"x":{"datum":1,"type":"quantitative","scale":{"domain":[56,729],"nice":false,"zero":false},"axis":null},"y":{"datum":67,"type":"quantitative","scale":{"domain":[0,232],"reverse":true,"nice":false,"zero":false},"axis":null},"text":{"value":"C."}}},
{"mark":{"type":"text","align":"left","baseline":"alphabetic","fontSize":36},"encoding":{"x":{"datum":43,"type":"quantitative","scale":{"domain":[56,729],"nice":false,"zero":false},"axis":null},"y":{"datum":67,"type":"quantitative","scale":{"domain":[0,232],"reverse":true,"nice":false,"zero":false},"axis":null},"text":{"value":"3’-OH-Ibuprofen"}}},
{"mark":{"type":"text","align":"center","baseline":"alphabetic","fontSize":16},"encoding":{"x":{"datum":115,"type":"quantitative","scale":{"domain":[56,729],"nice":false,"zero":false},"axis":null},"y":{"datum":130,"type":"quantitative","scale":{"domain":[0,232],"reverse":true,"nice":false,"zero":false},"axis":null},"text":{"value":"COX-1"}}},
{"mark":{"type":"text","align":"center","baseline":"alphabetic","fontSize":16},"encoding":{"x":{"datum":499,"type":"quantitative","scale":{"domain":[56,729],"nice":false,"zero":false},"axis":null},"y":{"datum":130,"type":"quantitative","scale":{"domain":[0,232],"reverse":true,"nice":false,"zero":false},"axis":null},"text":{"value":"COX-2"}}},
{"mark":{"type":"rule","color":"#000","strokeWidth":1.5},"encoding":{"x":{"datum":17,"type":"quantitative","scale":{"domain":[56,729],"nice":false,"zero":false},"axis":null},"x2":{"datum":213},"y":{"datum":146,"type":"quantitative","scale":{"domain":[0,232],"reverse":true,"nice":false,"zero":false},"axis":null}}},
{"mark":{"type":"rule","color":"#000","strokeWidth":1.5},"encoding":{"x":{"datum":267,"type":"quantitative","scale":{"domain":[56,729],"nice":false,"zero":false},"axis":null},"x2":{"datum":728},"y":{"datum":146,"type":"quantitative","scale":{"domain":[0,232],"reverse":true,"nice":false,"zero":false},"axis":null}}},
{"mark":{"type":"rule","color":"#000","strokeWidth":1.5},"encoding":{"x":{"datum":17,"type":"quantitative","scale":{"domain":[56,729],"nice":false,"zero":false},"axis":null},"y":{"datum":140,"type":"quantitative","scale":{"domain":[0,232],"reverse":true,"nice":false,"zero":false},"axis":null},"y2":{"datum":152}}},
{"mark":{"type":"rule","color":"#000","strokeWidth":1.5},"encoding":{"x":{"datum":213,"type":"quantitative","scale":{"domain":[56,729],"nice":false,"zero":false},"axis":null},"y":{"datum":140,"type":"quantitative","scale":{"domain":[0,232],"reverse":true,"nice":false,"zero":false},"axis":null},"y2":{"datum":152}}},
{"mark":{"type":"rule","color":"#000","strokeWidth":1.5},"encoding":{"x":{"datum":267,"type":"quantitative","scale":{"domain":[56,729],"nice":false,"zero":false},"axis":null},"y":{"datum":140,"type":"quantitative","scale":{"domain":[0,232],"reverse":true,"nice":false,"zero":false},"axis":null},"y2":{"datum":152}}},
{"mark":{"type":"rule","color":"#000","strokeWidth":1.5},"encoding":{"x":{"datum":728,"type":"quantitative","scale":{"domain":[56,729],"nice":false,"zero":false},"axis":null},"y":{"datum":140,"type":"quantitative","scale":{"domain":[0,232],"reverse":true,"nice":false,"zero":false},"axis":null},"y2":{"datum":152}}},
{"mark":{"type":"text","align":"center","baseline":"alphabetic","fontSize":19,"lineHeight":28},"encoding":{"x":{"datum":113,"type":"quantitative","scale":{"domain":[56,729],"nice":false,"zero":false},"axis":null},"y":{"datum":185,"type":"quantitative","scale":{"domain":[0,232],"reverse":true,"nice":false,"zero":false},"axis":null},"text":{"value":["Arachidonic","acid"]}}},
{"mark":{"type":"text","align":"center","baseline":"alphabetic","fontSize":19,"lineHeight":28},"encoding":{"x":{"datum":380,"type":"quantitative","scale":{"domain":[56,729],"nice":false,"zero":false},"axis":null},"y":{"datum":185,"type":"quantitative","scale":{"domain":[0,232],"reverse":true,"nice":false,"zero":false},"axis":null},"text":{"value":["Arachidonic","acid"]}}},
{"mark":{"type":"text","align":"center","baseline":"alphabetic","fontSize":19},"encoding":{"x":{"datum":633,"type":"quantitative","scale":{"domain":[56,729],"nice":false,"zero":false},"axis":null},"y":{"datum":199,"type":"quantitative","scale":{"domain":[0,232],"reverse":true,"nice":false,"zero":false},"axis":null},"text":{"value":"2-AG"}}}
]},
{"spacing":43,"hconcat":[
{"width":109,"height":152,"layer":[
{"encoding":{"x":{"field":"t","type":"quantitative","scale":{"domain":[0,125],"nice":false,"zero":false},"axis":{"values":[0,30,60,90,120],"title":"Time (s)"}},"y":{"field":"v","type":"quantitative","scale":{"domain":[-13,3],"nice":false,"zero":false},"axis":{"values":[0,-4,-8,-12],"title":"Δ[O₂] (μM)","labelExpr":"'' + datum.value"}}},
"layer":[
{"data":{"name":"pts"},"transform":[{"filter":"datum.p=='C1' && isValid(datum.eb)"}],"mark":{"type":"rule","color":"#1a1a1a","strokeWidth":1},"encoding":{"y2":{"field":"eb"}}},
{"data":{"name":"pts"},"transform":[{"filter":"datum.p=='C1' && isValid(datum.eb)"}],"mark":{"type":"tick","orient":"horizontal","size":7,"thickness":1,"color":"#1a1a1a"},"encoding":{"y":{"field":"eb","type":"quantitative","scale":{"domain":[-13,3],"nice":false,"zero":false},"axis":{"values":[0,-4,-8,-12],"title":"Δ[O₂] (μM)","labelExpr":"'' + datum.value"}}}},
{"data":{"name":"pts"},"transform":[{"filter":"datum.p=='C1'"}],"mark":{"type":"line","color":"#000","strokeWidth":1},"encoding":{"detail":{"field":"s"}}},
{"data":{"name":"pts"},"transform":[{"filter":"datum.p=='C1' && datum.t>0"}],"mark":{"type":"point","filled":true,"stroke":"#000","strokeWidth":0.8,"size":70,"opacity":1},"encoding":{"fill":{"field":"s","type":"nominal","scale":{"domain":["0","10","30","100","300","1000","F30"],"range":["#ffffff","#f3e53c","#f0923b","#3b7fc3","#e63a2c","#5f5f5f","#9d79a6"]},"legend":null},"shape":{"field":"s","type":"nominal","scale":{"domain":["0","10","30","100","300","1000","F30"],"range":["circle","circle","circle","circle","circle","circle","triangle-up"]},"legend":null}}}
]},
{"data":{"name":"labs"},"transform":[{"filter":"datum.p=='C1'"}],"mark":{"type":"text","fontSize":14,"align":"center","baseline":"middle"},"encoding":{"x":{"datum":172,"type":"quantitative","scale":{"domain":[0,125],"nice":false,"zero":false},"axis":{"values":[0,30,60,90,120],"title":"Time (s)"}},"y":{"field":"ly","type":"quantitative","scale":{"domain":[-13,3],"nice":false,"zero":false},"axis":{"values":[0,-4,-8,-12],"title":"Δ[O₂] (μM)","labelExpr":"'' + datum.value"}},"text":{"field":"lab"}}}
]},
{"spacing":41,"hconcat":[
{"width":109,"height":152,"layer":[
{"encoding":{"x":{"field":"t","type":"quantitative","scale":{"domain":[0,125],"nice":false,"zero":false},"axis":{"values":[0,30,60,90,120],"title":"Time (s)"}},"y":{"field":"v","type":"quantitative","scale":{"domain":[-13,3],"nice":false,"zero":false},"axis":{"values":[0,-4,-8,-12],"title":"Δ[O₂] (μM)","labelExpr":"'' + datum.value"}}},
"layer":[
{"data":{"name":"pts"},"transform":[{"filter":"datum.p=='C2' && isValid(datum.eb)"}],"mark":{"type":"rule","color":"#1a1a1a","strokeWidth":1},"encoding":{"y2":{"field":"eb"}}},
{"data":{"name":"pts"},"transform":[{"filter":"datum.p=='C2' && isValid(datum.eb)"}],"mark":{"type":"tick","orient":"horizontal","size":7,"thickness":1,"color":"#1a1a1a"},"encoding":{"y":{"field":"eb","type":"quantitative","scale":{"domain":[-13,3],"nice":false,"zero":false},"axis":{"values":[0,-4,-8,-12],"title":"Δ[O₂] (μM)","labelExpr":"'' + datum.value"}}}},
{"data":{"name":"pts"},"transform":[{"filter":"datum.p=='C2'"}],"mark":{"type":"line","color":"#000","strokeWidth":1},"encoding":{"detail":{"field":"s"}}},
{"data":{"name":"pts"},"transform":[{"filter":"datum.p=='C2' && datum.t>0"}],"mark":{"type":"point","filled":true,"stroke":"#000","strokeWidth":0.8,"size":70,"opacity":1},"encoding":{"fill":{"field":"s","type":"nominal","scale":{"domain":["0","10","30","100","300","1000","F30"],"range":["#ffffff","#f3e53c","#f0923b","#3b7fc3","#e63a2c","#5f5f5f","#9d79a6"]},"legend":null},"shape":{"field":"s","type":"nominal","scale":{"domain":["0","10","30","100","300","1000","F30"],"range":["circle","circle","circle","circle","circle","circle","triangle-up"]},"legend":null}}}
]},
{"data":{"name":"labs"},"transform":[{"filter":"datum.p=='C2'"}],"mark":{"type":"text","fontSize":14,"align":"center","baseline":"middle"},"encoding":{"x":{"datum":158,"type":"quantitative","scale":{"domain":[0,125],"nice":false,"zero":false},"axis":{"values":[0,30,60,90,120],"title":"Time (s)"}},"y":{"field":"ly","type":"quantitative","scale":{"domain":[-13,3],"nice":false,"zero":false},"axis":{"values":[0,-4,-8,-12],"title":"Δ[O₂] (μM)","labelExpr":"'' + datum.value"}},"text":{"field":"lab"}}}
]},
{"width":109,"height":152,"layer":[
{"encoding":{"x":{"field":"t","type":"quantitative","scale":{"domain":[0,125],"nice":false,"zero":false},"axis":{"values":[0,30,60,90,120],"title":"Time (s)"}},"y":{"field":"v","type":"quantitative","scale":{"domain":[-16.5,3],"nice":false,"zero":false},"axis":{"values":[0,-4,-8,-12],"title":"Δ[O₂] (μM)","labelExpr":"'' + datum.value"}}},
"layer":[
{"data":{"name":"pts"},"transform":[{"filter":"datum.p=='C3' && isValid(datum.eb)"}],"mark":{"type":"rule","color":"#1a1a1a","strokeWidth":1},"encoding":{"y2":{"field":"eb"}}},
{"data":{"name":"pts"},"transform":[{"filter":"datum.p=='C3' && isValid(datum.eb)"}],"mark":{"type":"tick","orient":"horizontal","size":7,"thickness":1,"color":"#1a1a1a"},"encoding":{"y":{"field":"eb","type":"quantitative","scale":{"domain":[-16.5,3],"nice":false,"zero":false},"axis":{"values":[0,-4,-8,-12],"title":"Δ[O₂] (μM)","labelExpr":"'' + datum.value"}}}},
{"data":{"name":"pts"},"transform":[{"filter":"datum.p=='C3'"}],"mark":{"type":"line","color":"#000","strokeWidth":1},"encoding":{"detail":{"field":"s"}}},
{"data":{"name":"pts"},"transform":[{"filter":"datum.p=='C3' && datum.t>0"}],"mark":{"type":"point","filled":true,"stroke":"#000","strokeWidth":0.8,"size":70,"opacity":1},"encoding":{"fill":{"field":"s","type":"nominal","scale":{"domain":["0","10","30","100","300","1000","F30"],"range":["#ffffff","#f3e53c","#f0923b","#3b7fc3","#e63a2c","#5f5f5f","#9d79a6"]},"legend":null},"shape":{"field":"s","type":"nominal","scale":{"domain":["0","10","30","100","300","1000","F30"],"range":["circle","circle","circle","circle","circle","circle","triangle-up"]},"legend":null}}}
]},
{"data":{"name":"labs"},"transform":[{"filter":"datum.p=='C3'"}],"mark":{"type":"text","fontSize":14,"align":"center","baseline":"middle"},"encoding":{"x":{"datum":153,"type":"quantitative","scale":{"domain":[0,125],"nice":false,"zero":false},"axis":{"values":[0,30,60,90,120],"title":"Time (s)"}},"y":{"field":"ly","type":"quantitative","scale":{"domain":[-16.5,3],"nice":false,"zero":false},"axis":{"values":[0,-4,-8,-12],"title":"Δ[O₂] (μM)","labelExpr":"'' + datum.value"}},"text":{"field":"lab"}}}
]}
]}
]}
]
}
